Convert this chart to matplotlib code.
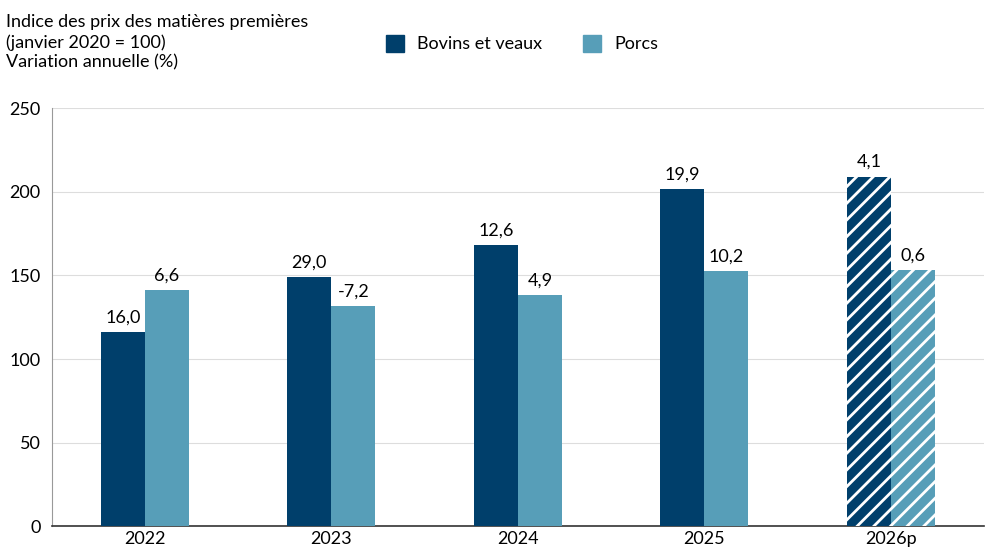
import matplotlib
matplotlib.use("Agg")
import matplotlib.pyplot as plt
import numpy as np

plt.rcParams['font.family'] = ['Lato', 'DejaVu Sans']
plt.rcParams['hatch.color'] = 'white'
plt.rcParams['hatch.linewidth'] = 2.0

years = ["2022", "2023", "2024", "2025", "2026p"]
bovins = [116, 149, 168, 201.5, 209]
porcs = [141, 131.5, 138, 152.5, 153]
bovins_lbl = ["16,0", "29,0", "12,6", "19,9", "4,1"]
porcs_lbl = ["6,6", "-7,2", "4,9", "10,2", "0,6"]

c1, c2 = "#003f6b", "#579eb8"
fig = plt.figure(figsize=(9.92, 5.58), dpi=100)
ax = fig.add_axes([0.052, 0.057, 0.94, 0.749])
x = np.arange(len(years))
w = 0.236
for i in range(len(years)):
    h = '//' if i == len(years) - 1 else None
    ax.bar(x[i] - w/2, bovins[i], w, color=c1, hatch=h, edgecolor='white' if h else c1, linewidth=0, zorder=3)
    ax.bar(x[i] + w/2, porcs[i], w, color=c2, hatch=h, edgecolor='white' if h else c2, linewidth=0, zorder=3)
    ax.text(x[i] - w/2, bovins[i] + 4, bovins_lbl[i], ha='center', va='bottom', fontsize=13)
    ax.text(x[i] + w/2, porcs[i] + 4, porcs_lbl[i], ha='center', va='bottom', fontsize=13)

ax.set_xlim(-0.5, 4.5)
ax.set_ylim(0, 250)
ax.set_yticks([0, 50, 100, 150, 200, 250])
ax.set_xticks(x)
ax.set_xticklabels(years)
ax.tick_params(axis='both', labelsize=13, length=0)
ax.tick_params(axis='y', pad=8)
ax.grid(axis='y', color='#dddddd', linewidth=0.8, zorder=0)
for s in ['top', 'right']:
    ax.spines[s].set_visible(False)
ax.spines['left'].set_color('#999999')
ax.spines['bottom'].set_color('#333333')
ax.spines['bottom'].set_linewidth(1.2)

fig.text(0.006, 0.975, "Indice des prix des matières premières\n(janvier 2020 = 100)\nVariation annuelle (%)",
         ha='left', va='top', fontsize=13, linespacing=1.3)
fig.patches.append(plt.Rectangle((0.389, 0.906), 0.018, 0.032, color=c1, transform=fig.transFigure))
fig.text(0.420, 0.922, "Bovins et veaux", va='center', fontsize=13)
fig.patches.append(plt.Rectangle((0.588, 0.906), 0.018, 0.032, color=c2, transform=fig.transFigure))
fig.text(0.619, 0.922, "Porcs", va='center', fontsize=13)

fig.savefig("out.png", dpi=100)
